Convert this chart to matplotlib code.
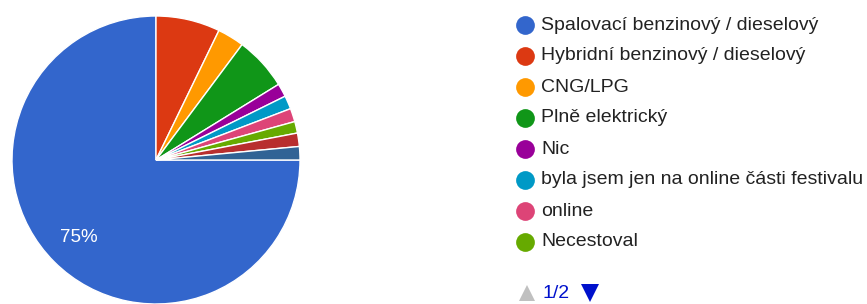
import numpy as np
import matplotlib
matplotlib.use("Agg")
import matplotlib.pyplot as plt

plt.rcParams['font.family'] = ['Liberation Sans', 'DejaVu Sans']

# data (percent)
labels = ['Spalovací benzinový / dieselový', 'Hybridní benzinový / dieselový',
          'CNG/LPG', 'Plně elektrický', 'Nic', 'byla jsem jen na online části festivalu',
          'online', 'Necestoval', 'jiné 1', 'jiné 2']
shares = [75, 7.2, 3, 6, 1.5, 1.5, 1.5, 1.3, 1.5, 1.5]
colors = ['#3366cc', '#dc3912', '#ff9900', '#109618', '#990099', '#0099c6',
          '#dd4477', '#66aa00', '#b82e2e', '#316395']
legend_shown = 8
page_text = '1/2'

W, H = 867, 304
fig = plt.figure(figsize=(W / 100, H / 100), dpi=100)

# pie axes, centre ~ (156, 160) px, radius ~144 px
r = 144
cx, cy = 156, 160
ax = fig.add_axes([(cx - r) / W, (H - cy - r) / H, 2 * r / W, 2 * r / H])
wedges, _ = ax.pie(shares, colors=colors, startangle=0, counterclock=False,
                   radius=1, wedgeprops=dict(edgecolor='white', linewidth=1))
ax.set_xlim(-1, 1)
ax.set_ylim(-1, 1)
ax.set_aspect('equal')
ax.axis('off')

# percentage label on the big slice only
w0 = wedges[0]
mid = np.deg2rad((w0.theta1 + w0.theta2) / 2)
ax.text(0.76 * np.cos(mid), 0.76 * np.sin(mid), f'{shares[0]:.0f}%',
        color='white', fontsize=13.5, ha='center', va='center')

# legend drawn in pixel coordinates
lg = fig.add_axes([0, 0, 1, 1])
lg.set_xlim(0, W)
lg.set_ylim(H, 0)
lg.axis('off')
y0, dy = 25, 31
for i in range(legend_shown):
    y = y0 + i * dy
    lg.plot(525, y, 'o', color=colors[i], markersize=13.5, markeredgewidth=0)
    lg.text(541, y, labels[i], fontsize=14, color='#222222', va='center', ha='left')

# pager
py = 293
lg.plot(527, py, '^', color='#c0c0c0', markersize=12, markeredgewidth=0)
lg.text(542, py, page_text, fontsize=14, color='#0011cc', va='center', ha='left')
lg.plot(590, py, 'v', color='#0011cc', markersize=13, markeredgewidth=0)

fig.savefig('out.png', dpi=100)
